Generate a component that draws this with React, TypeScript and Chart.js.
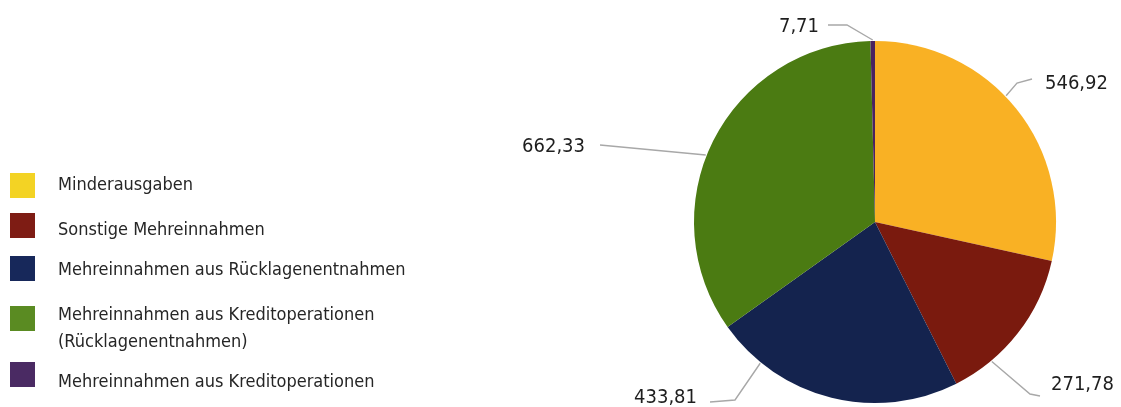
import React, { useEffect, useRef } from "react";
import { Chart, registerables } from "chart.js";

Chart.register(...registerables);

// ---- data ----
const categories = [
  "Minderausgaben",
  "Sonstige Mehreinnahmen",
  "Mehreinnahmen aus Rücklagenentnahmen",
  "Mehreinnahmen aus Kreditoperationen (Rücklagenentnahmen)",
  "Mehreinnahmen aus Kreditoperationen",
];
const legendLines = [
  ["Minderausgaben"],
  ["Sonstige Mehreinnahmen"],
  ["Mehreinnahmen aus Rücklagenentnahmen"],
  ["Mehreinnahmen aus Kreditoperationen", "(Rücklagenentnahmen)"],
  ["Mehreinnahmen aus Kreditoperationen"],
];
const values = [546.92, 271.78, 433.81, 662.33, 7.71];
const valueLabels = ["546,92", "271,78", "433,81", "662,33", "7,71"];

// ---- styles ----
const sliceColors = ["#F9B124", "#7A1A0E", "#14234E", "#4B7B12", "#4A2260"];
const legendColors = ["#F3D324", "#7E1C14", "#17285A", "#5A8B22", "#4A2A63"];

// label layout: anchor fraction within slice, leader path (elbow -> end), text position
const labelLayout = [
  { frac: 0.45, path: [[1017, 83], [1032, 79]], tx: 1045, ty: 89, align: "left" },
  { frac: 0.74, path: [[1030, 394], [1040, 396]], tx: 1051, ty: 390, align: "left" },
  { frac: 0.81, path: [[735, 400], [710, 402]], tx: 697, ty: 403, align: "right" },
  { frac: 0.46, path: [[600, 145]], tx: 585, ty: 152, align: "right" },
  { frac: 0.5, path: [[847, 25], [828, 25]], tx: 819, ty: 32, align: "right" },
];
const legendLayout = {
  boxX: 10,
  boxSize: 25,
  boxTops: [173, 213, 256, 306, 362],
  textX: 58,
  baselines: [190, 235, 275, 320, 387],
  lineHeight: 27,
};

const overlayPlugin = {
  id: "overlay",
  afterDraw(chart: any) {
    const ctx = chart.ctx as CanvasRenderingContext2D;
    const meta = chart.getDatasetMeta(0);
    ctx.save();
    // leader lines + value labels
    meta.data.forEach((arc: any, i: number) => {
      const p = arc.getProps(["x", "y", "startAngle", "endAngle", "outerRadius"], true);
      const L = labelLayout[i];
      const a = p.startAngle + (p.endAngle - p.startAngle) * L.frac;
      const r = p.outerRadius + 1;
      const ax = p.x + r * Math.cos(a);
      const ay = p.y + r * Math.sin(a);
      ctx.strokeStyle = "#A8A8A8";
      ctx.lineWidth = 1.4;
      ctx.beginPath();
      ctx.moveTo(ax, ay);
      L.path.forEach((pt) => ctx.lineTo(pt[0], pt[1]));
      ctx.stroke();
      ctx.fillStyle = "#1E1E1E";
      ctx.font = "20px 'DejaVu Sans Condensed'";
      ctx.textAlign = L.align as CanvasTextAlign;
      ctx.textBaseline = "alphabetic";
      ctx.fillText(valueLabels[i], L.tx, L.ty);
    });
    // legend
    ctx.font = "18px 'DejaVu Sans Condensed'";
    ctx.textAlign = "left";
    ctx.textBaseline = "alphabetic";
    categories.forEach((_, i) => {
      ctx.fillStyle = legendColors[i];
      ctx.fillRect(legendLayout.boxX, legendLayout.boxTops[i], legendLayout.boxSize, legendLayout.boxSize);
      ctx.fillStyle = "#262626";
      legendLines[i].forEach((line, j) => {
        ctx.fillText(line, legendLayout.textX, legendLayout.baselines[i] + j * legendLayout.lineHeight);
      });
    });
    ctx.restore();
  },
};

export default function App() {
  const ref = useRef<HTMLCanvasElement | null>(null);
  useEffect(() => {
    document.body.style.margin = "0";
    const canvas = ref.current!;
    const chart = new Chart(canvas, {
      type: "pie",
      data: {
        labels: categories,
        datasets: [
          {
            data: values,
            backgroundColor: sliceColors,
            borderWidth: 0,
          },
        ],
      },
      options: {
        responsive: false,
        animation: false,
        layout: { padding: { left: 694, right: 65, top: 41, bottom: 4 } },
        plugins: {
          legend: { display: false },
          tooltip: { enabled: false },
        },
      },
      plugins: [overlayPlugin],
    });
    return () => chart.destroy();
  }, []);
  return (
    <div style={{ width: 1121, height: 407, background: "#fff" }}>
      <canvas ref={ref} width={1121} height={407} style={{ display: "block" }} />
    </div>
  );
}
